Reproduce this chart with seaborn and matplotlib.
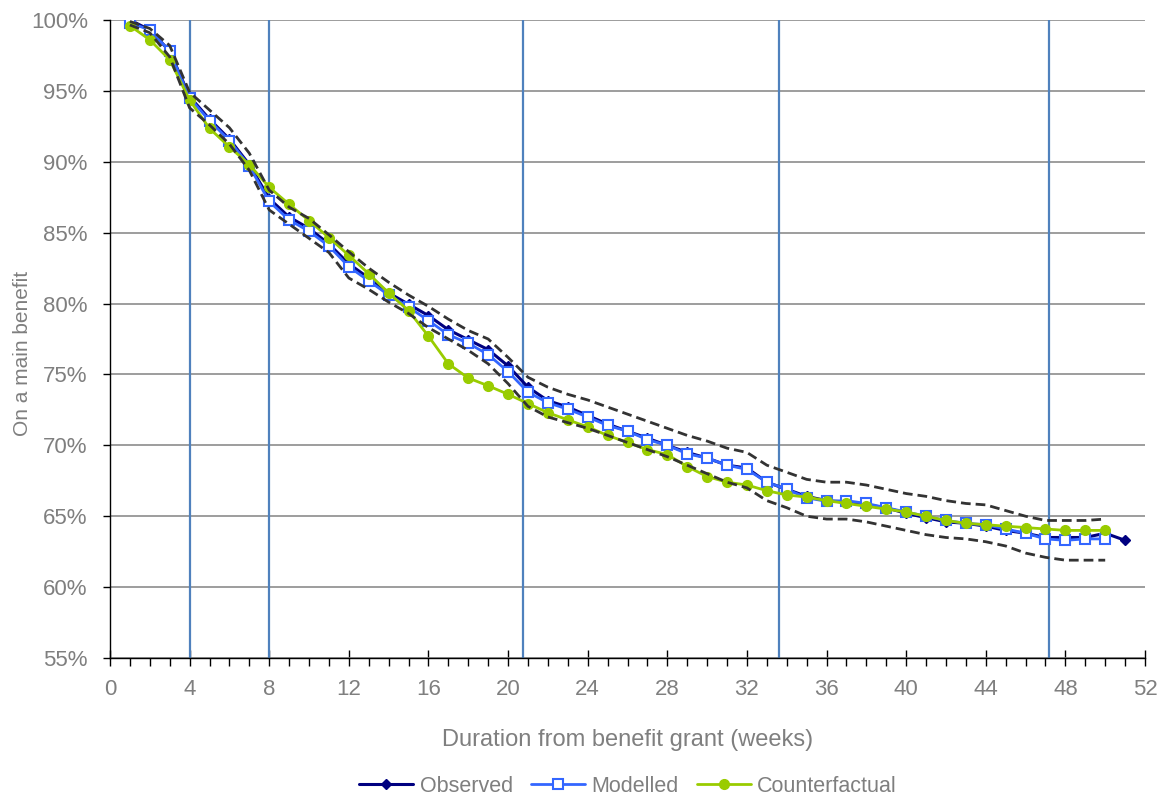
import numpy as np
import pandas as pd
import matplotlib
matplotlib.use("Agg")
import matplotlib.pyplot as plt
from matplotlib.ticker import MultipleLocator, FuncFormatter
import seaborn as sns

# Weekly survival on a main benefit (%), by weeks since grant
weeks_observed = list(range(1, 52))
observed = [100.0, 99.3, 97.8, 94.6, 93.0, 91.6, 89.8, 87.4, 86.1, 85.3,
            84.2, 82.8, 81.8, 80.75, 79.95, 79.15, 78.15, 77.45, 76.75, 75.6,
            74.1, 73.15, 72.7, 72.1, 71.5, 71.0, 70.5, 70.0, 69.5, 69.1,
            68.6, 68.4, 67.4, 66.9, 66.4, 66.1, 66.0, 65.8, 65.6, 65.2,
            64.9, 64.6, 64.5, 64.3, 64.0, 63.8, 63.5, 63.5, 63.5, 63.8,
            63.3]

weeks = list(range(1, 51))
modelled = [99.8, 99.3, 97.8, 94.5, 92.9, 91.5, 89.7, 87.2, 85.9, 85.1,
            84.05, 82.6, 81.6, 80.6, 79.75, 78.8, 77.8, 77.2, 76.4, 75.2,
            73.75, 73.0, 72.55, 72.0, 71.4, 71.0, 70.4, 70.0, 69.4, 69.1,
            68.6, 68.3, 67.4, 66.9, 66.3, 66.05, 66.1, 65.9, 65.6, 65.3,
            65.0, 64.7, 64.5, 64.4, 64.1, 63.8, 63.4, 63.3, 63.4, 63.4]

counterfactual = [99.6, 98.6, 97.2, 94.35, 92.35, 91.05, 89.8, 88.2, 87.0, 85.85,
                  84.65, 83.4, 82.1, 80.75, 79.5, 77.7, 75.75, 74.75, 74.2, 73.6,
                  72.95, 72.3, 71.8, 71.3, 70.7, 70.2, 69.7, 69.35, 68.5, 67.8,
                  67.4, 67.2, 66.8, 66.5, 66.35, 66.1, 65.9, 65.7, 65.5, 65.3,
                  65.0, 64.7, 64.5, 64.4, 64.3, 64.2, 64.1, 64.0, 64.0, 64.0]

upper_bound = [99.9, 99.4, 98.2, 94.9, 93.65, 92.4, 90.6, 88.0, 86.8, 86.0,
               84.85, 83.65, 82.5, 81.5, 80.6, 79.8, 78.9, 78.1, 77.5, 76.2,
               74.8, 74.1, 73.6, 73.2, 72.7, 72.2, 71.7, 71.2, 70.7, 70.3,
               69.8, 69.5, 68.6, 68.1, 67.6, 67.4, 67.4, 67.2, 66.9, 66.6,
               66.4, 66.1, 65.9, 65.8, 65.4, 65.0, 64.7, 64.7, 64.7, 64.8]

lower_bound = [99.65, 99.1, 97.4, 93.8, 92.6, 91.25, 89.4, 86.6, 85.6, 84.6,
               83.6, 81.8, 81.0, 80.1, 79.3, 78.3, 77.5, 76.7, 75.75, 74.35,
               72.75, 72.0, 71.6, 71.2, 70.7, 70.2, 69.7, 69.2, 68.6, 68.0,
               67.4, 67.0, 66.1, 65.6, 65.0, 64.8, 64.8, 64.6, 64.3, 64.0,
               63.7, 63.5, 63.4, 63.2, 62.9, 62.4, 62.1, 61.9, 61.9, 61.9]

# Reference weeks marked with vertical lines
marker_weeks = [4, 8, 20.75, 33.6, 47.2]

x_ticks = list(range(0, 53, 4))
y_ticks = list(range(55, 101, 5))

sns.set_theme(style="white")
plt.rcParams["font.family"] = ["Liberation Sans", "DejaVu Sans"]

TEXT_GREY = "#7f7f7f"
NAVY = "#000080"
BLUE = "#3366ff"
GREEN = "#99cc00"
VLINE = "#4f81bd"

fig = plt.figure(figsize=(11.63, 8.0), dpi=100)
ax = fig.add_axes([110 / 1163, 1 - 658 / 800, (1145 - 110) / 1163, (658 - 20) / 800])

for w in marker_weeks:
    ax.axvline(w, color=VLINE, lw=1.6, zorder=2)

df_obs = pd.DataFrame({"week": weeks_observed, "value": observed})
df = pd.DataFrame({"week": weeks, "modelled": modelled, "counterfactual": counterfactual,
                   "upper": upper_bound, "lower": lower_bound})

sns.lineplot(data=df_obs, x="week", y="value", ax=ax, color=NAVY, lw=2.2,
             marker="D", markersize=5, markerfacecolor=NAVY, markeredgecolor=NAVY,
             markeredgewidth=1, estimator=None, label="Observed", zorder=4)
sns.lineplot(data=df, x="week", y="modelled", ax=ax, color=BLUE, lw=2.0,
             marker="s", markersize=7, markerfacecolor="white", markeredgecolor=BLUE,
             markeredgewidth=1.5, estimator=None, label="Modelled", zorder=5)
sns.lineplot(data=df, x="week", y="counterfactual", ax=ax, color=GREEN, lw=2.0,
             marker="o", markersize=7, markerfacecolor=GREEN, markeredgecolor=GREEN,
             markeredgewidth=1, estimator=None, label="Counterfactual", zorder=6)
for col in ["upper", "lower"]:
    sns.lineplot(data=df, x="week", y=col, ax=ax, color="#333333", lw=2.0,
                 linestyle=(0, (3.5, 1.8)), estimator=None, legend=False, zorder=7)

ax.set_xlim(0, 52)
ax.set_ylim(55, 100)
ax.set_xticks(x_ticks)
ax.xaxis.set_minor_locator(MultipleLocator(1))
ax.set_yticks(y_ticks)
ax.yaxis.set_major_formatter(FuncFormatter(lambda v, _: f"{v:.0f}%"))

ax.grid(axis="y", color="#8c8c8c", lw=1.2)
ax.grid(axis="x", visible=False)
ax.set_axisbelow(True)

for side in ["top", "right"]:
    ax.spines[side].set_visible(False)
for side in ["left", "bottom"]:
    ax.spines[side].set_color("#000000")
    ax.spines[side].set_linewidth(1.0)
    ax.spines[side].set_zorder(8)

ax.tick_params(axis="x", which="major", direction="inout", length=11, width=1,
               color="#000000", labelsize=16, labelcolor=TEXT_GREY, pad=9.5, bottom=True)
ax.tick_params(axis="x", which="minor", direction="out", length=6, width=1,
               color="#000000", bottom=True)
ax.tick_params(axis="y", which="major", direction="out", length=5, width=1,
               color="#000000", labelsize=16, labelcolor=TEXT_GREY, pad=11, left=True)

ax.set_xlabel("Duration from benefit grant (weeks)", fontsize=17, color=TEXT_GREY, labelpad=21)
ax.set_ylabel("On a main benefit", fontsize=15, color=TEXT_GREY)
ax.yaxis.set_label_coords(-0.075, 0.477)

handles, labels = ax.get_legend_handles_labels()
ax.get_legend().remove()
fig.legend(handles, labels, loc="center", bbox_to_anchor=(0.54, 0.017), ncol=3,
           frameon=False, fontsize=15.5, labelcolor=TEXT_GREY, handlelength=2.5,
           handletextpad=0.3, columnspacing=0.85)

fig.savefig("out.png", dpi=100)
